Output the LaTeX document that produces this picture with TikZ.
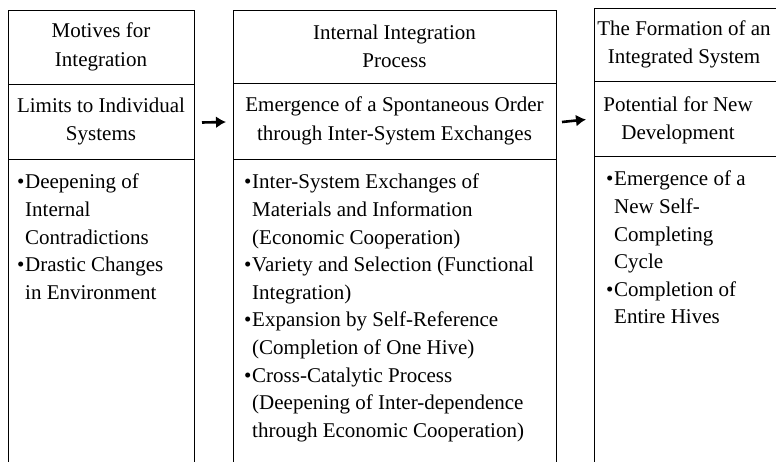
\documentclass[tikz,border=0pt]{standalone}
\usepackage{fontspec}
\setmainfont{Liberation Serif}
\usetikzlibrary{arrows.meta,calc}

% bullet mark and the matching indent for continuation lines
\newcommand\bulmark{\makebox[8pt][l]{\textbullet}}
\newcommand\bulind{\hspace*{8pt}}

\begin{document}
\begin{tikzpicture}[x=1pt,y=1pt,
  cell/.style={draw, line width=0.9pt, anchor=north west, align=center,
    inner sep=0pt, outer sep=0pt, font=\fontsize{21}{28.5}\selectfont},
  celltext/.style={anchor=center, align=center, inner sep=0pt,
    font=\fontsize{21}{28.5}\selectfont},
  bodytext/.style={anchor=north west, align=left, inner sep=0pt,
    font=\fontsize{21}{27.6}\selectfont},
  flow/.style={line width=2.6pt, -{Latex[length=10pt,width=12pt]}}]
\useasboundingbox (0,0) rectangle (776,-462);

% left column
\node[cell, minimum width=186pt, minimum height=74pt] (h1) at (8,-10)
  {Motives for\\Integration};
\node[cell, minimum width=186pt, minimum height=75pt] (s1) at (h1.south west)
  {Limits to Individual\\Systems};
\node[cell, minimum width=186pt, minimum height=330pt] (b1) at (s1.south west) {};
\node[bodytext] (t1) at ([xshift=9pt,yshift=-15pt]b1.north west)
  {\bulmark Deepening of\\ \bulind Internal\\ \bulind Contradictions\\
   \bulmark Drastic Changes\\ \bulind in Environment};

% middle column
\node[cell, minimum width=323pt, minimum height=73pt] (h2) at (233,-10)
  {Internal Integration\\Process};
\node[cell, minimum width=323pt, minimum height=76pt] (s2) at (h2.south west)
  {Emergence of a Spontaneous Order\\through Inter-System Exchanges};
\node[cell, minimum width=323pt, minimum height=330pt] (b2) at (s2.south west) {};
\node[bodytext] (t2) at ([xshift=11pt,yshift=-15pt]b2.north west)
  {\bulmark Inter-System Exchanges of\\ \bulind Materials and Information\\
   \bulind (Economic Cooperation)\\ \bulmark Variety and Selection (Functional\\
   \bulind Integration)\\ \bulmark Expansion by Self-Reference\\
   \bulind (Completion of One Hive)\\ \bulmark Cross-Catalytic Process\\
   \bulind (Deepening of Inter-dependence\\ \bulind through Economic Cooperation)};

% right column (runs past the right edge, so its texts are placed on their own)
\node[cell, minimum width=220pt, minimum height=73pt] (h3) at (594,-8) {};
\node[celltext] (h3t) at ($(h3.north west)!0.5!(h3.south west)+(90,0)$)
  {The Formation of an\\Integrated System};
\node[cell, minimum width=220pt, minimum height=75pt] (s3) at (h3.south west) {};
\node[celltext] (s3t) at ($(s3.north west)!0.5!(s3.south west)+(84,-2)$)
  {Potential for New\\Development};
\node[cell, minimum width=220pt, minimum height=330pt] (b3) at (s3.south west) {};
\node[bodytext] (t3) at ([xshift=12pt,yshift=-15pt]b3.north west)
  {\bulmark Emergence of a\\ \bulind New Self-\\ \bulind Completing\\
   \bulind Cycle\\ \bulmark Completion of\\ \bulind Entire Hives};

% flow arrows between the stages
\draw[flow] ([xshift=8pt,yshift=-1pt]s1.east) -- ([xshift=-7pt,yshift=-1pt]s2.west);
\draw[flow] ([xshift=6pt,yshift=-1pt]s2.east) -- ([xshift=-8pt,yshift=-1pt]s3.west);
\end{tikzpicture}
\end{document}
